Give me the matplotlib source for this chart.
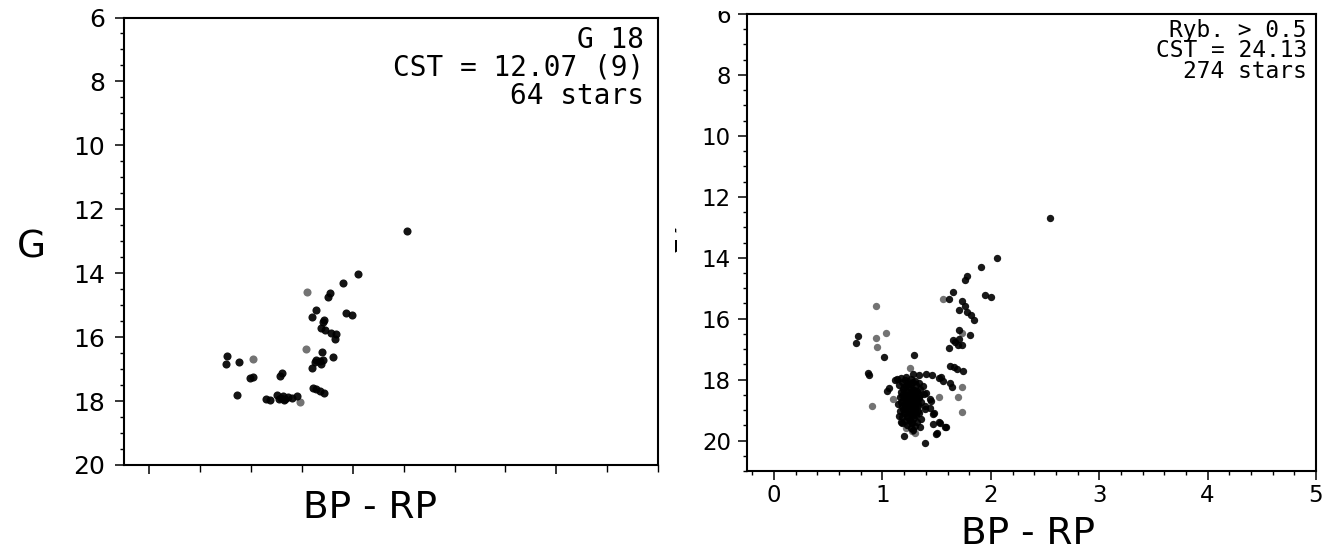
import matplotlib
matplotlib.use("Agg")
import matplotlib.pyplot as plt
from matplotlib.ticker import MultipleLocator
from matplotlib.transforms import Bbox, TransformedBbox

# left panel: G 18 members (BP-RP, G)
left_x = [2.53, 2.05, 1.905, 1.78, 1.76, 1.64, 1.60, 1.93, 1.99, 1.72, 1.71, 1.69,
          1.73, 1.79, 1.83, 1.82, 1.70, 1.80, 1.64, 1.675, 1.71, 1.69, 1.63, 1.60,
          0.76, 0.75, 0.88, 0.99, 1.02, 1.28, 1.30, 0.86, 1.61, 1.64, 1.68, 1.72,
          1.15, 1.19, 1.25, 1.29, 1.33, 1.36, 1.40, 1.45, 1.32, 1.31, 1.27]
left_y = [12.69, 14.01, 14.31, 14.63, 14.74, 15.16, 15.38, 15.24, 15.32, 15.45, 15.52, 15.71,
          15.78, 15.87, 15.90, 16.07, 16.45, 16.63, 16.72, 16.75, 16.70, 16.85, 16.78, 16.98,
          16.59, 16.83, 16.77, 17.29, 17.24, 17.22, 17.13, 17.81, 17.58, 17.63, 17.69, 17.74,
          17.92, 17.98, 17.81, 17.90, 17.92, 17.87, 17.90, 17.84, 17.98, 17.85, 17.95]
left_x_pale = [1.55, 1.54, 1.02, 1.48]
left_y_pale = [14.58, 16.37, 16.67, 18.02]

# right panel: Ryb. > 0.5 members
right_x = [2.55, 2.06, 1.91, 1.78, 1.76, 1.65, 1.61, 1.95, 2.00, 1.73, 1.76, 1.71,
           1.78, 1.82, 1.84, 1.71, 1.81, 1.65, 1.67, 1.71, 1.70, 1.73, 1.61, 0.77,
           0.76, 1.01, 1.29, 0.87, 0.88, 1.62, 1.66, 1.69, 1.74, 1.62, 1.64,
           # turnoff / main sequence edge
           1.13, 1.17, 1.22, 1.28, 1.34, 1.40, 1.46, 1.52, 1.56, 1.54, 1.12, 1.04,
           1.06, 1.44, 1.40, 1.39, 1.48, 1.52, 1.59, 1.47, 1.50, 1.39, 1.20, 1.15,
           1.17, 1.18, 1.45, 1.44, 1.47, 1.35, 1.49, 1.53, 1.58,
           # dense main-sequence clump
           1.21, 1.26, 1.30, 1.18, 1.34, 1.24, 1.28, 1.15, 1.37, 1.22, 1.31, 1.26,
           1.19, 1.29, 1.35, 1.23, 1.17, 1.27, 1.32, 1.38, 1.21, 1.25, 1.30, 1.16,
           1.34, 1.23, 1.28, 1.19, 1.26, 1.31, 1.36, 1.22, 1.14, 1.29, 1.25, 1.33,
           1.18, 1.27, 1.21, 1.30, 1.39, 1.24, 1.16, 1.28, 1.34, 1.20, 1.26, 1.31,
           1.23, 1.18, 1.29, 1.36, 1.25, 1.21, 1.32, 1.27, 1.23, 1.30, 1.26, 1.28,
           1.24, 1.27, 1.22, 1.29, 1.25, 1.27, 1.23, 1.30, 1.20, 1.32, 1.26, 1.19,
           1.33, 1.24, 1.28, 1.21, 1.35, 1.17, 1.25, 1.29, 1.22, 1.27, 1.31, 1.20,
           1.24, 1.33, 1.26, 1.18, 1.30, 1.23]
right_y = [12.70, 14.00, 14.30, 14.60, 14.74, 15.14, 15.36, 15.21, 15.29, 15.43, 15.58, 15.70,
           15.79, 15.89, 16.04, 16.36, 16.54, 16.69, 16.76, 16.68, 16.87, 16.87, 16.97, 16.58,
           16.81, 17.26, 17.19, 17.79, 17.84, 17.56, 17.60, 17.66, 17.71, 18.12, 18.25,
           17.98, 17.96, 17.90, 17.81, 17.85, 17.83, 17.85, 17.96, 18.06, 17.91, 18.00, 18.37,
           18.29, 18.64, 18.45, 18.88, 19.10, 19.38, 19.54, 19.46, 19.76, 20.09, 19.85, 19.21,
           19.38, 19.44, 18.69, 18.92, 19.13, 19.55, 19.79, 19.44, 19.55,
           18.02, 17.97, 18.04, 18.09, 18.11, 18.13, 18.08, 18.18, 18.21, 18.22, 18.19, 18.27,
           18.31, 18.33, 18.30, 18.38, 18.42, 18.41, 18.44, 18.47, 18.49, 18.52, 18.55, 18.57,
           18.60, 18.61, 18.63, 18.67, 18.69, 18.71, 18.73, 18.76, 18.79, 18.80, 18.83, 18.86,
           18.88, 18.90, 18.93, 18.96, 18.98, 19.00, 19.03, 19.05, 19.08, 19.10, 19.13, 19.16,
           19.20, 19.24, 19.26, 19.29, 19.32, 19.37, 19.40, 19.43, 19.49, 19.52, 19.58, 19.64,
           18.45, 18.57, 18.68, 18.74, 18.95, 19.18, 18.85, 18.88, 18.58, 18.36, 18.15, 18.97,
           19.02, 19.27, 18.48, 18.80, 18.52, 18.74, 18.64, 18.99, 19.06, 18.34, 18.62, 18.25,
           18.07, 18.79, 19.40, 18.52, 19.11, 18.55]
right_x_pale = [1.56, 0.94, 1.73, 0.94, 0.95, 1.03, 0.90, 1.73, 1.70, 1.73, 1.25, 1.52,
                1.10, 1.30, 1.27, 1.22]
right_y_pale = [15.36, 15.60, 16.48, 16.64, 16.94, 16.46, 18.86, 18.25, 18.58, 19.06, 17.63, 18.56,
                18.63, 19.76, 19.68, 19.60]

W, H = 1327, 551
fig = plt.figure(figsize=(W / 100, H / 100), dpi=100)
ax1 = fig.add_axes([124 / W, 1 - 465 / H, 534 / W, 447.5 / H])
ax2 = fig.add_axes([747 / W, 1 - 471 / H, 569 / W, 457 / H])


def style_axis(ax, labelsize, pad):
    for s in ax.spines.values():
        s.set_linewidth(1.5)
    ax.tick_params(which="major", length=6.5, width=1.1, labelsize=labelsize, pad=pad)
    ax.tick_params(which="minor", length=3.2, width=1.0)


# left panel
ax1.scatter(left_x, left_y, s=34, color="black", alpha=0.92, linewidths=0)
ax1.scatter(left_x_pale, left_y_pale, s=34, color="black", alpha=0.55, linewidths=0)
ax1.set_xlim(-0.25, 5)
ax1.set_ylim(20, 6)
ax1.xaxis.set_major_locator(MultipleLocator(2))
ax1.xaxis.set_minor_locator(MultipleLocator(0.5))
ax1.yaxis.set_major_locator(MultipleLocator(2))
ax1.yaxis.set_minor_locator(MultipleLocator(0.5))
style_axis(ax1, 18, 7)
ax1.tick_params(axis="x", which="minor", length=5)
ax1.tick_params(labelbottom=False)
ax1.set_xlabel("BP - RP", fontsize=27)
ax1.xaxis.set_label_coords(0.461, -0.056)
ax1.set_ylabel("G", fontsize=27, rotation=0, ha="center", va="center")
ax1.yaxis.set_label_coords(-0.174, 0.486)
ax1.text(0.974, 0.982, "G 18\nCST = 12.07 (9)\n64 stars", transform=ax1.transAxes,
         ha="right", va="top", family="DejaVu Sans Mono", fontsize=20, linespacing=1.0)

# right panel
ax2.scatter(right_x, right_y, s=28, color="black", alpha=0.9, linewidths=0)
ax2.scatter(right_x_pale, right_y_pale, s=28, color="black", alpha=0.55, linewidths=0)
ax2.set_xlim(-0.25, 5)
ax2.set_ylim(21, 6)
ax2.xaxis.set_major_locator(MultipleLocator(1))
ax2.xaxis.set_minor_locator(MultipleLocator(0.2))
ax2.yaxis.set_major_locator(MultipleLocator(2))
ax2.yaxis.set_minor_locator(MultipleLocator(0.5))
style_axis(ax2, 16.5, 5)
ax2.tick_params(axis="x", pad=3)
ax2.set_xlabel("BP - RP", fontsize=27)
ax2.xaxis.set_label_coords(0.494, -0.098)
ax2.set_ylabel("G", fontsize=27, rotation=0, ha="center", va="center")
ax2.yaxis.set_label_coords(-0.144, 0.495)
ax2.text(0.984, 0.99, "Ryb. > 0.5\nCST = 24.13\n274 stars", transform=ax2.transAxes,
         ha="right", va="top", family="DejaVu Sans Mono", fontsize=16.5, linespacing=0.86)

# the right panel was cropped: only a sliver of its y label and top tick label shows
ax2.yaxis.label.set_clip_box(TransformedBbox(Bbox([[675 / W, 0], [1, 1]]), fig.transFigure))
ax2.yaxis.label.set_clip_on(True)
top_clip = TransformedBbox(Bbox([[0, 0], [1, 1 - 11 / H]]), fig.transFigure)
for t in ax2.yaxis.get_major_ticks():
    t.label1.set_clip_box(top_clip)
    t.label1.set_clip_on(True)

fig.savefig("out.png", dpi=100)
